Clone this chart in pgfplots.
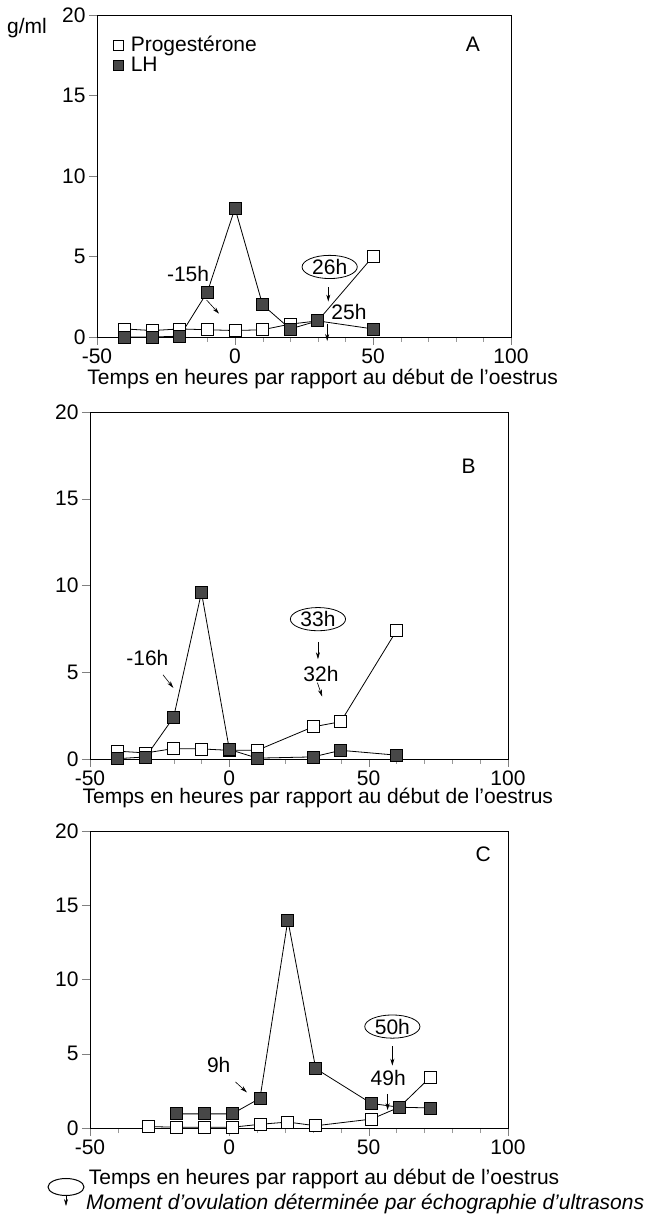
\documentclass[border=0pt]{standalone}
\usepackage{pgfplots}
\pgfplotsset{compat=1.18}
\usepackage{fontspec}
\setmainfont{Liberation Sans}
\usetikzlibrary{shapes.geometric,arrows.meta}
\newcommand{\ff}{\fontsize{21}{25}\selectfont}

\tikzset{
  arr/.style={-{Stealth[length=7pt,width=4pt]}, line width=0.6pt},
  circ/.style={draw, ellipse, inner xsep=2pt, inner ysep=0.5pt, line width=0.8pt, font=\ff},
}
\pgfplotsset{
  panel/.style={
    scale only axis, anchor=south west,
    xmin=-50, xmax=100, ymin=0, ymax=20,
    xtick={-50,0,50,100}, ytick={0,5,10,15,20},
    minor xtick={-40,-30,-20,-10,10,20,30,40,60,70,80,90},
    tick pos=left, tick align=outside,
    major tick length=8pt, minor tick length=5pt,
    minor tick style={black!40},
    axis line style={line width=0.8pt},
    every tick label/.append style={font=\ff},
    /pgf/number format/assume math mode=true,
    label style={font=\ff},
    clip=false,
  },
  prog/.style={black, line width=0.8pt, mark=square*, mark size=6pt, mark options={fill=white, draw=black, line width=0.8pt}},
  lh/.style={black, line width=0.8pt, mark=square*, mark size=6pt, mark options={fill=black!72, draw=black, line width=0.8pt}},
}

\begin{document}
\begin{tikzpicture}
\useasboundingbox (0pt,0pt) rectangle (646pt,1215pt);

% ---------------- Panel A
\begin{axis}[panel, at={(97pt,878pt)}, width=414pt, height=322pt,
  xlabel={Temps en heures par rapport au d\'ebut de l'oestrus},
  xlabel style={at={(axis description cs:0.545,0)}, anchor=base, yshift=-48pt},
  legend style={at={(rel axis cs:0.04,0.94)}, anchor=north west, draw=none, fill=none, font=\ff, inner sep=0pt, row sep=0pt, cells={anchor=west, inner xsep=2pt, inner ysep=4pt}},
  legend image code/.code={\path[draw=none, fill=none] (0pt,0pt) -- (15pt,0pt); \draw[#1, mark size=5pt] plot coordinates {(5pt,0pt)};},
  ]
\addlegendimage{only marks, mark=square*, mark options={fill=white, draw=black, line width=0.8pt}}
\addlegendentry{Progest\'erone}
\addlegendimage{only marks, mark=square*, mark options={fill=black!72, draw=black, line width=0.8pt}}
\addlegendentry{LH}
\addplot[prog, forget plot] coordinates {(-40,0.5) (-30,0.4) (-20,0.5) (-10,0.45) (0,0.4) (10,0.45) (20,0.8) (30,1.0) (50,5.0)};
\addplot[lh, forget plot] coordinates {(-40,0) (-30,0) (-20,0.05) (-10,2.8) (0,8.0) (10,2.0) (20,0.5) (30,1.0) (50,0.5)};
\node[font=\ff] at (axis cs:-17,3.9) {-15h};
\draw[arr] (axis cs:-10.3,2.3) -- (axis cs:-5.8,1.45);
\node[circ] at (axis cs:34.3,4.35) {26h};
\draw[arr] (axis cs:33.8,3.1) -- (axis cs:33.8,2.2);
\node[font=\ff] at (axis cs:41.3,1.55) {25h};
\draw[arr] (axis cs:33.4,0.8) -- (axis cs:33.4,-0.25);
\node[font=\ff] at (axis cs:86.2,18.2) {A};
\end{axis}
\node[font=\ff] at (27pt,1187pt) {g/ml};

% ---------------- Panel B
\begin{axis}[panel, at={(90pt,456pt)}, width=418pt, height=347pt,
  xlabel={Temps en heures par rapport au d\'ebut de l'oestrus},
  xlabel style={at={(axis description cs:0.545,0)}, anchor=base, yshift=-45pt},
  ]
\addplot[prog] coordinates {(-40,0.45) (-30,0.35) (-20,0.6) (-10,0.58) (0,0.5) (10,0.5) (30,1.85) (40,2.15) (60,7.4)};
\addplot[lh] coordinates {(-40,0.02) (-30,0.12) (-20,2.4) (-10,9.6) (0,0.55) (10,0.05) (30,0.12) (40,0.5) (60,0.22)};
\node[font=\ff] at (axis cs:-29.4,5.8) {-16h};
\draw[arr] (axis cs:-23.8,4.85) -- (axis cs:-20.1,4.1);
\node[circ] at (axis cs:31.8,8.06) {33h};
\draw[arr] (axis cs:31.8,6.75) -- (axis cs:31.8,5.75);
\node[font=\ff] at (axis cs:32.9,4.9) {32h};
\draw[arr] (axis cs:31.6,4.4) -- (axis cs:33.3,3.6);
\node[font=\ff] at (axis cs:85.9,16.9) {B};
\end{axis}

% ---------------- Panel C
\begin{axis}[panel, at={(90pt,87pt)}, width=418pt, height=297pt,
  xlabel={Temps en heures par rapport au d\'ebut de l'oestrus},
  xlabel style={at={(axis description cs:0.56,0)}, anchor=base, yshift=-56pt},
  ]
\addplot[prog] coordinates {(-29,0.1) (-19,0.05) (-9,0.05) (1,0.05) (11,0.25) (21,0.4) (31,0.15) (51,0.6) (61,1.4) (72,3.4)};
\addplot[lh] coordinates {(-19,0.95) (-9,0.95) (1,0.95) (11,2.0) (21,14.0) (31,4.0) (51,1.65) (61,1.4) (72,1.35)};
\node[font=\ff] at (axis cs:-3.8,4.26) {9h};
\draw[arr] (axis cs:2.2,3.1) -- (axis cs:6.3,2.4);
\node[circ] at (axis cs:58.5,6.83) {50h};
\draw[arr] (axis cs:58.5,5.5) -- (axis cs:58.5,4.2);
\node[font=\ff] at (axis cs:57,3.36) {49h};
\draw[arr] (axis cs:56.8,2.3) -- (axis cs:56.8,1.2);
\node[font=\ff] at (axis cs:91.1,18.4) {C};
\end{axis}

% ---------------- Footer
\node[draw, ellipse, minimum width=36pt, minimum height=17pt, line width=1pt] at (66pt,28pt) {};
\draw[arr] (66pt,19.5pt) -- (66pt,9pt);
\node[font=\ff\itshape, anchor=west, inner sep=0pt] at (86pt,11pt) {Moment d'ovulation d\'etermin\'ee par \'echographie d'ultrasons};
\end{tikzpicture}
\end{document}
